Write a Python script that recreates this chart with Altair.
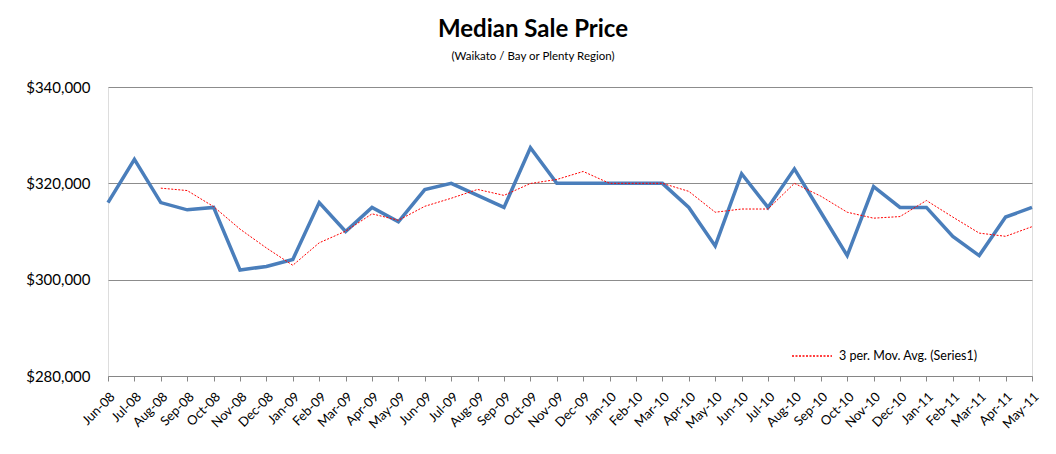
import altair as alt
import pandas as pd

months = ["Jun-08", "Jul-08", "Aug-08", "Sep-08", "Oct-08", "Nov-08", "Dec-08",
          "Jan-09", "Feb-09", "Mar-09", "Apr-09", "May-09", "Jun-09", "Jul-09",
          "Aug-09", "Sep-09", "Oct-09", "Nov-09", "Dec-09", "Jan-10", "Feb-10",
          "Mar-10", "Apr-10", "May-10", "Jun-10", "Jul-10", "Aug-10", "Sep-10",
          "Oct-10", "Nov-10", "Dec-10", "Jan-11", "Feb-11", "Mar-11", "Apr-11",
          "May-11"]
prices = [316000, 325000, 316000, 314500, 315000, 302000, 302750,
          304200, 316000, 310000, 315000, 312000, 318700, 320000,
          317500, 315000, 327400, 320000, 320000, 320000, 320000,
          320000, 315000, 307000, 322000, 315000, 323000, 314000,
          305000, 319300, 315000, 315000, 309000, 305000, 313000,
          315000]
ma_label = "3 per. Mov. Avg. (Series1)"
y_ticks = [280000, 300000, 320000, 340000]

df = pd.DataFrame({"idx": list(range(len(months))), "month": months, "price": prices})

FONT = "Lato"

x_enc = alt.X("month:O", sort=months,
              scale=alt.Scale(type="point", padding=0),
              axis=alt.Axis(title=None, labelAngle=-45, labelFontSize=13,
                            labelColor="#000000", labelFont=FONT, labelPadding=9,
                            ticks=True, tickSize=5, tickColor="#868686",
                            domainColor="#868686", grid=False))
y_enc = alt.Y("price:Q",
              scale=alt.Scale(domain=[280000, 340000], nice=False, zero=False),
              axis=alt.Axis(title=None, values=y_ticks, format="$,.0f",
                            labelFontSize=15, labelColor="#000000", labelFont=FONT,
                            labelPadding=18, domain=False, ticks=False,
                            grid=True, gridColor="#8C8C8C", gridWidth=1))

base = alt.Chart(df)

series = base.mark_line(color="#4A7EBB", strokeWidth=3.5, strokeJoin="miter").encode(
    x=x_enc, y=y_enc)

ma = base.transform_window(
    ma="mean(price)", cnt="count()", frame=[-2, 0], sort=[{"field": "idx"}]
).transform_filter(
    alt.datum.cnt == 3
).transform_calculate(
    series=f"'{ma_label}'"
).mark_line(strokeWidth=1, strokeDash=[2, 1.5]).encode(
    x=x_enc,
    y=alt.Y("ma:Q", scale=alt.Scale(domain=[280000, 340000], nice=False, zero=False)),
    color=alt.Color("series:N",
                    scale=alt.Scale(domain=[ma_label], range=["#FF0000"]),
                    legend=alt.Legend(title=None, orient="none", legendX=683, legendY=248,
                                      symbolType="stroke", symbolSize=1600,
                                      symbolStrokeWidth=1.5, symbolDash=[2, 1.5],
                                      symbolStrokeColor="#FF3333", symbolOpacity=1,
                                      labelFontSize=12.5, labelFont=FONT,
                                      labelColor="#000000", labelOffset=6)),
)

chart = alt.layer(series, ma).properties(
    width=924, height=289,
    padding={"left": 100, "top": 79, "right": 16, "bottom": 70},
    autosize=alt.AutoSizeParams(type="none"),
    title=alt.TitleParams(
        "Median Sale Price",
        subtitle="(Waikato / Bay or Plenty Region)",
        font=FONT, fontSize=24, fontWeight="bold", color="#000000",
        subtitleFont=FONT, subtitleFontSize=11.5, subtitleColor="#000000",
        anchor="middle", dx=-37, offset=18, subtitlePadding=9),
).configure_view(stroke=None).configure(background="#FFFFFF")

chart.save("out.html", embed_options={"renderer": "svg", "actions": False})
